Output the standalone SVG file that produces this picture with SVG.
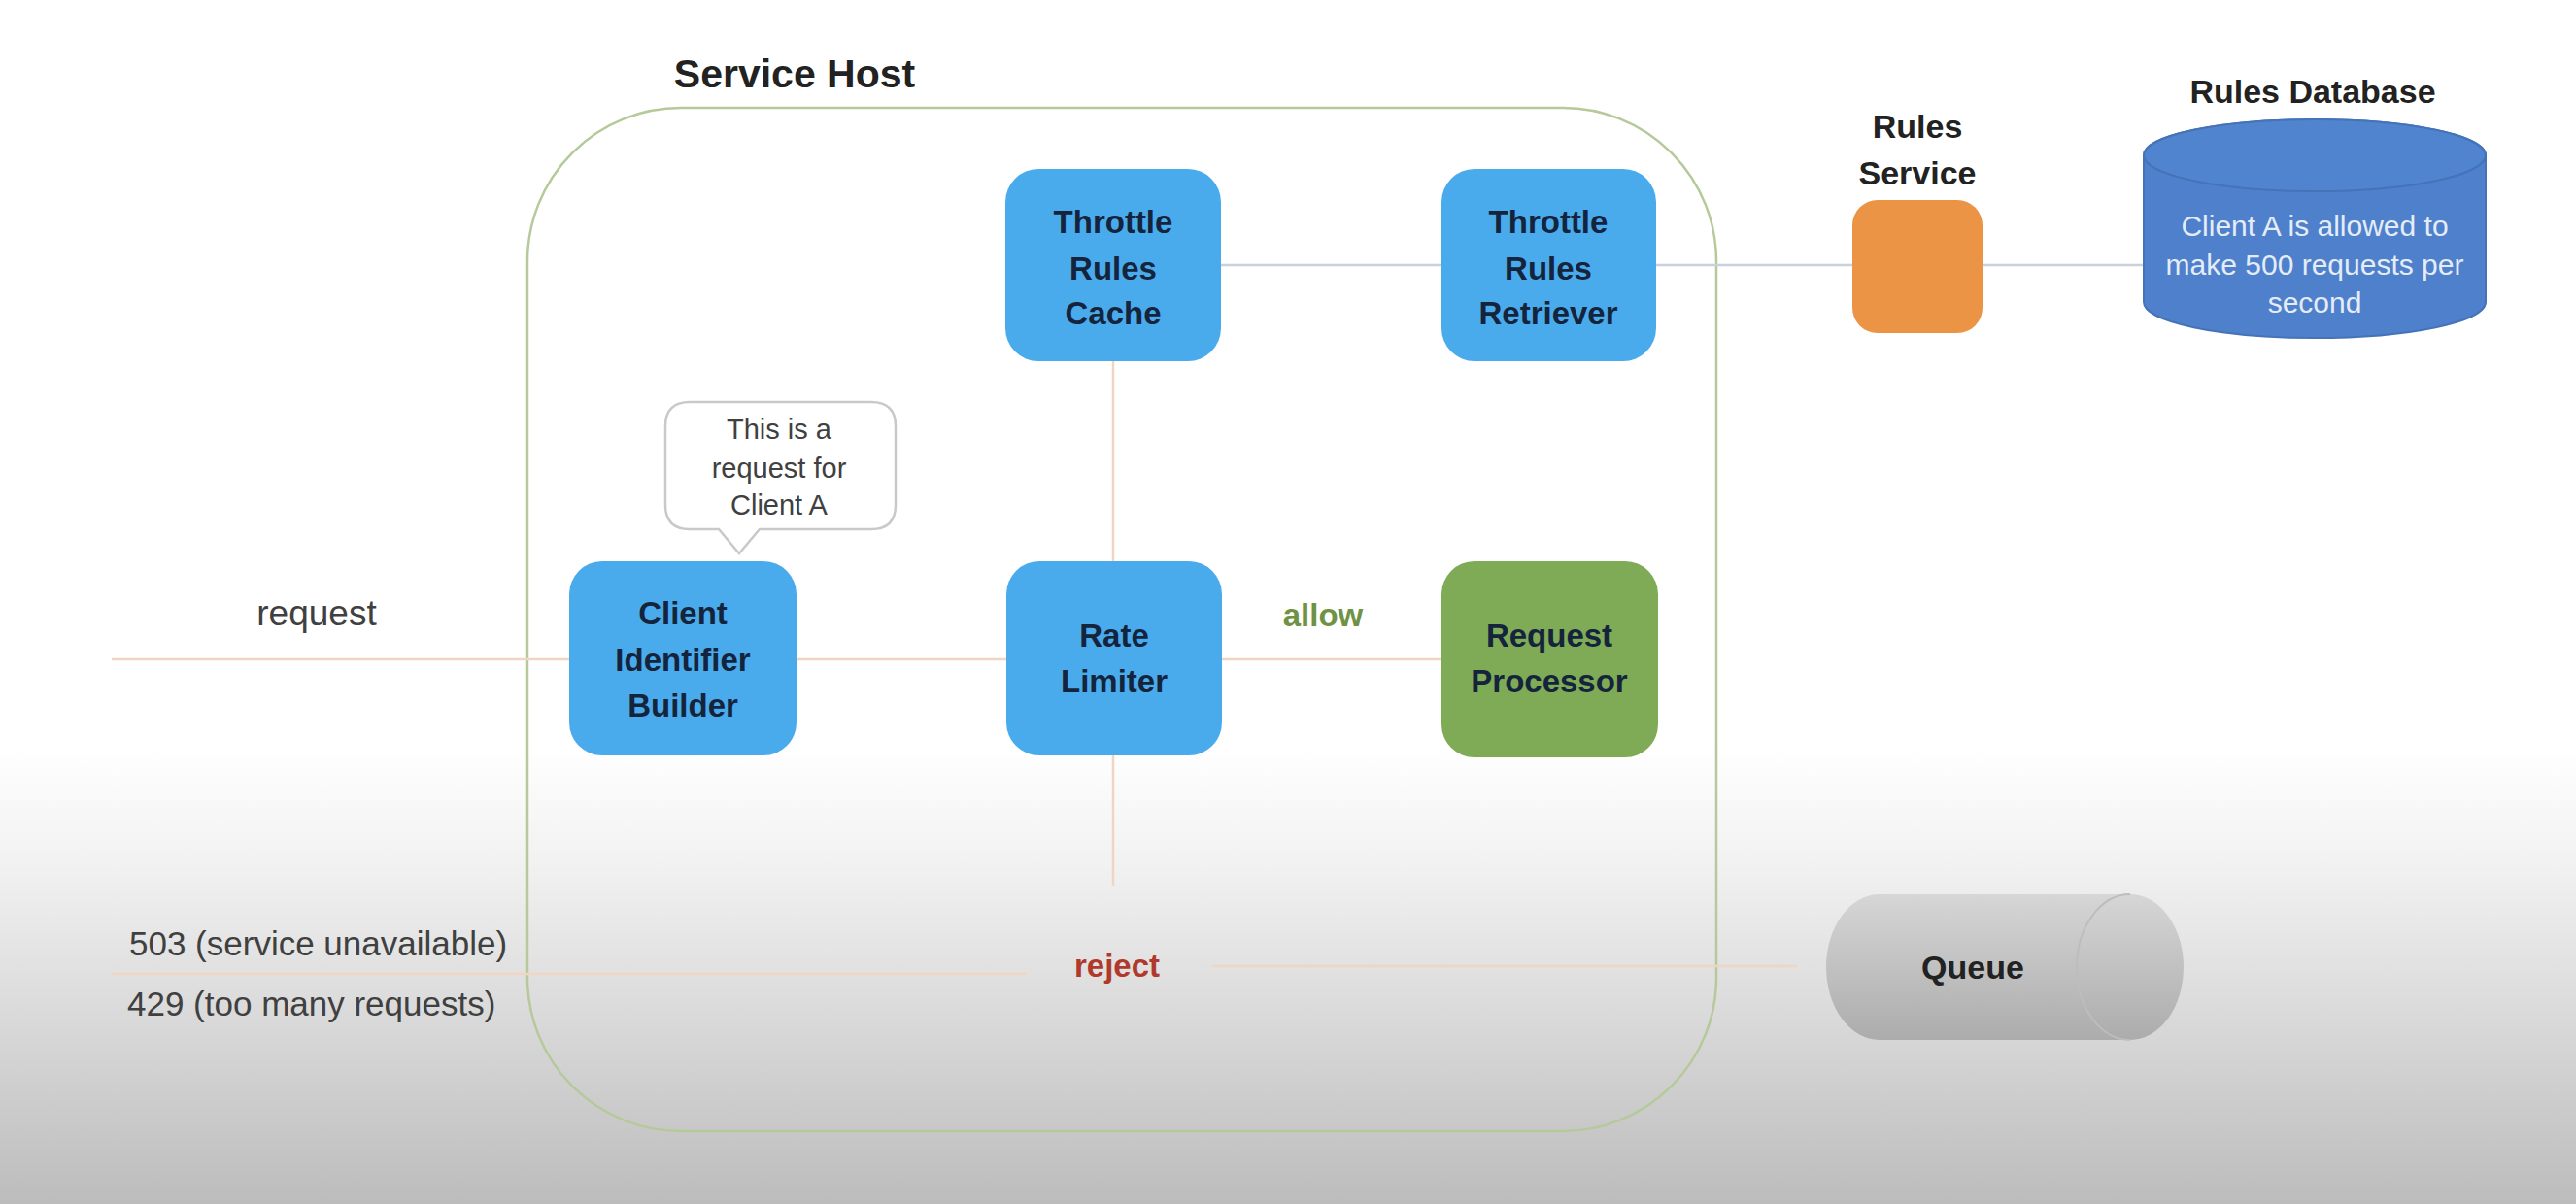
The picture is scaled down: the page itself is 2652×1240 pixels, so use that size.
<svg xmlns="http://www.w3.org/2000/svg" width="2652" height="1240" viewBox="0 0 2652 1240">
<defs>
<linearGradient id="bg" x1="0" y1="0" x2="0" y2="1">
<stop offset="0" stop-color="#ffffff"/>
<stop offset="0.62" stop-color="#ffffff"/>
<stop offset="0.72" stop-color="#f1f1f1"/>
<stop offset="1" stop-color="#bcbcbc"/>
</linearGradient>
<linearGradient id="qg" x1="0" y1="0" x2="0" y2="1">
<stop offset="0" stop-color="#d6d6d6"/>
<stop offset="1" stop-color="#acacac"/>
</linearGradient>
<style>
.box{fill:#4aabec;}
.green{fill:#7faa56;}
.bt{font-family:"Liberation Sans",Arial,sans-serif;font-weight:bold;font-size:33px;fill:#14243c;text-anchor:middle;}
.lbl{font-family:"Liberation Sans",Arial,sans-serif;fill:#404040;}
.hd{font-family:"Liberation Sans",Arial,sans-serif;font-weight:bold;fill:#222;text-anchor:middle;}
.peach{stroke:#f0d6c2;stroke-width:2.5;fill:none;}
.gray{stroke:#c9d0de;stroke-width:2.5;fill:none;}
</style>
</defs>
<rect x="0" y="0" width="2652" height="1240" fill="url(#bg)"/>

<g id="service-host">
<rect x="543" y="111" width="1224" height="1054" rx="158" ry="158" fill="none" stroke="#b5c99a" stroke-width="2.5"/>
<text x="818" y="90" class="hd" font-size="41">Service Host</text>
</g>

<g id="connectors">
<line class="gray" x1="1257" y1="273" x2="1484" y2="273"/>
<line class="gray" x1="1705" y1="273" x2="1907" y2="273"/>
<line class="gray" x1="2041" y1="273" x2="2208" y2="273"/>
<line class="peach" x1="1146" y1="372" x2="1146" y2="578"/>
<line class="peach" x1="1146" y1="778" x2="1146" y2="913"/>
<line class="peach" x1="115" y1="679" x2="586" y2="679"/>
<line class="peach" x1="820" y1="679" x2="1036" y2="679"/>
<line class="peach" x1="1258" y1="679" x2="1484" y2="679"/>
<line class="peach" x1="115" y1="1003" x2="1057" y2="1003"/>
<line class="peach" x1="1248" y1="995" x2="1850" y2="995"/>
</g>

<g id="labels">
<text class="lbl" x="326" y="644" text-anchor="middle" font-size="37">request</text>
<text x="1362" y="645" text-anchor="middle" font-family="Liberation Sans, Arial, sans-serif" font-size="33" font-weight="bold" fill="#6f9244">allow</text>
<text x="1150" y="1006" text-anchor="middle" font-family="Liberation Sans, Arial, sans-serif" font-size="33" font-weight="bold" fill="#b0392c">reject</text>
<text class="lbl" x="133" y="984" font-size="35">503 (service unavailable)</text>
<text class="lbl" x="131" y="1046" font-size="35">429 (too many requests)</text>
</g>

<g id="throttle-rules-cache">
<rect class="box" x="1035" y="174" width="222" height="198" rx="34"/>
<text class="bt" x="1146" y="240">Throttle</text>
<text class="bt" x="1146" y="288">Rules</text>
<text class="bt" x="1146" y="334">Cache</text>
</g>

<g id="throttle-rules-retriever">
<rect class="box" x="1484" y="174" width="221" height="198" rx="34"/>
<text class="bt" x="1594" y="240">Throttle</text>
<text class="bt" x="1594" y="288">Rules</text>
<text class="bt" x="1594" y="334">Retriever</text>
</g>

<g id="rules-service">
<text class="hd" x="1974" y="142" font-size="34">Rules</text>
<text class="hd" x="1974" y="190" font-size="34">Service</text>
<rect x="1907" y="206" width="134" height="137" rx="26" fill="#ec9445"/>
</g>

<g id="rules-database">
<text class="hd" x="2381" y="106" font-size="34">Rules Database</text>
<path d="M2207 160 L2207 311 A176 37 0 0 0 2559 311 L2559 160 A176 37 0 0 0 2207 160 Z" fill="#4f80cc" stroke="#4473b8" stroke-width="2"/>
<ellipse cx="2383" cy="160" rx="176" ry="37" fill="#5184cf" stroke="#4473b8" stroke-width="2"/>
<g font-family="Liberation Sans, Arial, sans-serif" font-size="30" fill="#e4ecf7" text-anchor="middle">
<text x="2383" y="243">Client A is allowed to</text>
<text x="2383" y="283">make 500 requests per</text>
<text x="2383" y="322">second</text>
</g>
</g>

<g id="speech-bubble">
<path d="M710 414 L897 414 Q922 414 922 439 L922 520 Q922 545 897 545 L782 545 L761 570 L740 545 L710 545 Q685 545 685 520 L685 439 Q685 414 710 414 Z" fill="#ffffff" stroke="#c9c9c9" stroke-width="2.5"/>
<g font-family="Liberation Sans, Arial, sans-serif" font-size="29" fill="#404040" text-anchor="middle">
<text x="802" y="452">This is a</text>
<text x="802" y="492">request for</text>
<text x="802" y="530">Client A</text>
</g>
</g>

<g id="client-identifier-builder">
<rect class="box" x="586" y="578" width="234" height="200" rx="34"/>
<text class="bt" x="703" y="643">Client</text>
<text class="bt" x="703" y="691">Identifier</text>
<text class="bt" x="703" y="738">Builder</text>
</g>

<g id="rate-limiter">
<rect class="box" x="1036" y="578" width="222" height="200" rx="34"/>
<text class="bt" x="1147" y="666">Rate</text>
<text class="bt" x="1147" y="713">Limiter</text>
</g>

<g id="request-processor">
<rect class="green" x="1484" y="578" width="223" height="202" rx="34"/>
<text class="bt" x="1595" y="666">Request</text>
<text class="bt" x="1595" y="713">Processor</text>
</g>

<g id="queue">
<path d="M1935 921 L2193 921 A55 75 0 0 1 2193 1071 L1935 1071 A55 75 0 0 1 1935 921 Z" fill="url(#qg)"/>
<path d="M2193 921 A55 75 0 0 0 2193 1071" fill="none" stroke="#bdbdbd" stroke-width="2"/>
<text class="hd" x="2031" y="1008" font-size="34">Queue</text>
</g>
</svg>
